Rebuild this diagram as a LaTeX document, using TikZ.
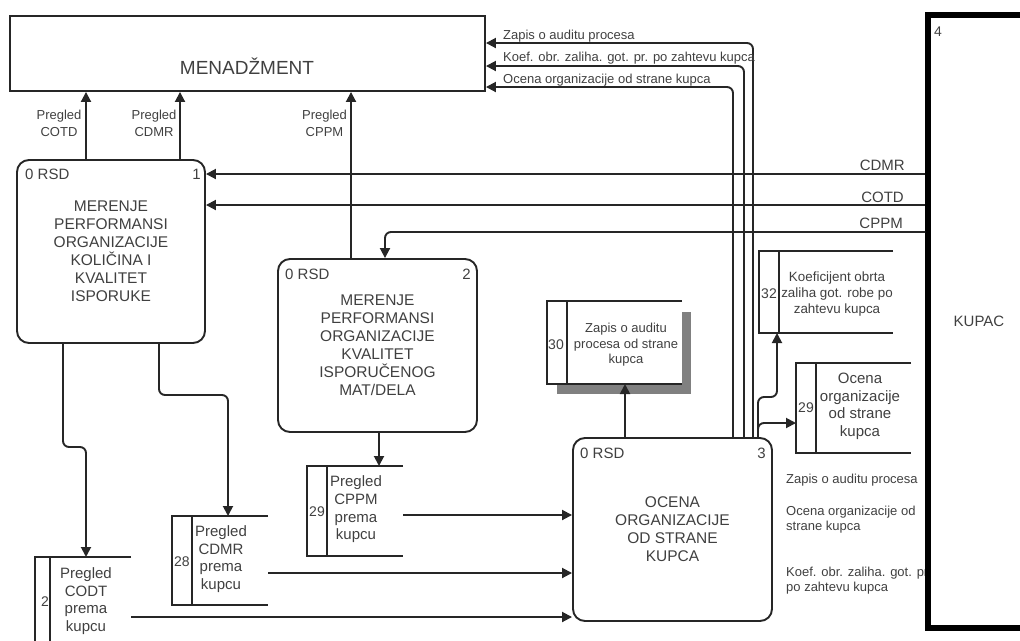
\documentclass[tikz,border=0pt]{standalone}
\usepackage{fontspec}
\setmainfont{Liberation Sans}
\usetikzlibrary{arrows.meta}

\tikzset{
  wire/.style={draw=black!85, line width=1.9pt},
  flow/.style={wire, rounded corners=6pt, -{Triangle[length=10pt,width=10pt]}},
  process/.style={wire, rounded corners=12pt, fill=white, inner sep=0pt, align=center, text=black!75, font=\fontsize{15.5}{18}\selectfont},
  storebox/.style={inner sep=0pt, outer sep=0pt},
  txt/.style={inner sep=0pt, align=center, text=black!75, font=\fontsize{13}{16}\selectfont},
  midtxt/.style={txt, font=\fontsize{15}{17.6}\selectfont},
  numtxt/.style={txt, font=\fontsize{14}{16}\selectfont}
}

\begin{document}
\begin{tikzpicture}[x=1pt,y=-1pt]
\useasboundingbox (0,0) rectangle (1020,640);

\node[wire, minimum width=475pt, minimum height=75pt] (men) at (247.5,53.5) {};
\node[txt, font=\fontsize{19}{22}\selectfont] (mentxt) at (247,66) {MENADŽMENT};

\node[process, minimum width=188pt, minimum height=183pt] (p1) at (111,251.5) {MERENJE\\PERFORMANSI\\ORGANIZACIJE\\KOLIČINA I\\KVALITET\\ISPORUKE};
\node[midtxt, anchor=west] (p1id) at (25,174) {0 RSD};
\node[midtxt, anchor=east] (p1no) at (201,174) {1};

\node[process, minimum width=199pt, minimum height=173pt] (p2) at (377.5,345.5) {MERENJE\\PERFORMANSI\\ORGANIZACIJE\\KVALITET\\ISPORUČENOG\\MAT/DELA};
\node[midtxt, anchor=west] (p2id) at (285,274) {0 RSD};
\node[midtxt, anchor=east] (p2no) at (471,274) {2};

\node[process, minimum width=199pt, minimum height=183pt] (p3) at (672.5,529.5) {OCENA\\ORGANIZACIJE\\OD STRANE\\KUPCA};
\node[midtxt, anchor=west] (p3id) at (580,453) {0 RSD};
\node[midtxt, anchor=east] (p3no) at (766,453) {3};

\node[storebox, minimum width=96pt, minimum height=108pt] (s27) at (83,611) {};
\draw[wire] (s27.north east) -- (s27.north west) -- (s27.south west) -- (s27.south east);
\draw[wire] ([xshift=15pt]s27.north west) -- ([xshift=15pt]s27.south west);
\node[numtxt] (s27no) at (45,602) {2};
\node[midtxt] (s27txt) at (86,601) {Pregled\\CODT\\prema\\kupcu};

\node[storebox, minimum width=96pt, minimum height=89pt] (s28) at (220,560.5) {};
\draw[wire] (s28.north east) -- (s28.north west) -- (s28.south west) -- (s28.south east);
\draw[wire] ([xshift=20pt]s28.north west) -- ([xshift=20pt]s28.south west);
\node[numtxt] (s28no) at (182,562) {28};
\node[midtxt] (s28txt) at (221,559) {Pregled\\CDMR\\prema\\kupcu};

\node[storebox, minimum width=96pt, minimum height=90pt] (s29a) at (355,511) {};
\draw[wire] (s29a.north east) -- (s29a.north west) -- (s29a.south west) -- (s29a.south east);
\draw[wire] ([xshift=20pt]s29a.north west) -- ([xshift=20pt]s29a.south west);
\node[numtxt] (s29ano) at (317,512) {29};
\node[midtxt] (s29atxt) at (356,509.5) {Pregled\\CPPM\\prema\\kupcu};

\fill[black!50] (557,312) rectangle (691,394);
\node[storebox, fill=white, minimum width=135pt, minimum height=83pt] (s30) at (614.5,342.5) {};
\draw[wire] (s30.north east) -- (s30.north west) -- (s30.south west) -- (s30.south east);
\draw[wire] ([xshift=20pt]s30.north west) -- ([xshift=20pt]s30.south west);
\node[numtxt] (s30no) at (556,345) {30};
\node[txt, font=\fontsize{13}{15.5}\selectfont] (s30txt) at (626,345) {Zapis o auditu\\procesa od strane\\kupca};

\node[storebox, minimum width=134pt, minimum height=82pt] (s32) at (826,292) {};
\draw[wire] (s32.north east) -- (s32.north west) -- (s32.south west) -- (s32.south east);
\draw[wire] ([xshift=20pt]s32.north west) -- ([xshift=20pt]s32.south west);
\node[numtxt] (s32no) at (769,294) {32};
\node[txt, font=\fontsize{13.4}{16}\selectfont] (s32txt) at (837,294) {Koeficijent obrta\\zaliha got. robe po\\zahtevu kupca};

\node[storebox, minimum width=115pt, minimum height=90pt] (s29b) at (853.5,408) {};
\draw[wire] (s29b.north east) -- (s29b.north west) -- (s29b.south west) -- (s29b.south east);
\draw[wire] ([xshift=20pt]s29b.north west) -- ([xshift=20pt]s29b.south west);
\node[numtxt] (s29bno) at (806,408) {29};
\node[midtxt] (s29btxt) at (860,406.5) {Ocena\\organizacije\\od strane\\kupca};

\node[txt, anchor=west, align=left, font=\fontsize{13}{15.5}\selectfont] (fzapis) at (786,480) {Zapis o auditu procesa};
\node[txt, anchor=west, align=left, font=\fontsize{13}{15.5}\selectfont] (focena) at (786,519.5) {Ocena organizacije od\\strane kupca};
\node[txt, anchor=west, align=left, font=\fontsize{13}{15.5}\selectfont] (fkoef) at (786,580.5) {Koef. obr. zaliha. got. pr\\po zahtevu kupca};

\node[draw=black, line width=5.5pt, fill=white, minimum width=102pt, minimum height=613pt, inner sep=0pt, text=black!75, font=\fontsize{15}{18}\selectfont] (kupac) at (979,321.5) {KUPAC};
\node[numtxt, anchor=west] (kupno) at (934,32) {4};

\draw[flow] (86,0 |- p1.north) -- (86,0 |- men.south);
\node[txt, font=\fontsize{13}{17}\selectfont] (lcotd) at (59,123.5) {Pregled\\COTD};
\draw[flow] (180,0 |- p1.north) -- (180,0 |- men.south);
\node[txt, font=\fontsize{13}{17}\selectfont] (lcdmr) at (154,123.5) {Pregled\\CDMR};
\draw[flow] (351,0 |- p2.north) -- (351,0 |- men.south);
\node[txt, font=\fontsize{13}{17}\selectfont] (lcppm) at (324.5,123.5) {Pregled\\CPPM};

\draw[flow] (kupac.west |- 0,174) -- (p1.east |- 0,174);
\node[midtxt, anchor=base east] (kcdmr) at (905,170.5) {CDMR};
\draw[flow] (kupac.west |- 0,205) -- (p1.east |- 0,205);
\node[midtxt, anchor=base east] (kcotd) at (904,202.5) {COTD};
\draw[flow] (kupac.west |- 0,232) -| (385,0 |- p2.north);
\node[midtxt, anchor=base east] (kcppm) at (903,228.5) {CPPM};

\draw[flow] (63,0 |- p1.south) |- (86,447) -- (86,0 |- s27.north);
\draw[flow] (159,0 |- p1.south) |- (228,395) -- (228,0 |- s28.north);
\draw[flow] (379,0 |- p2.south) -- (379,0 |- s29a.north);

\draw[flow] (s29a.north east |- 0,515) -- (p3.west |- 0,515);
\draw[flow] (s28.north east |- 0,573) -- (p3.west |- 0,573);
\draw[flow] (s27.north east |- 0,617) -- (p3.west |- 0,617);

\draw[flow] (625,0 |- p3.north) -- (625,0 |- s30.south);
\draw[flow] (753,0 |- p3.north) |- (men.east |- 0,43);
\node[txt, anchor=base west] (tzapis) at (503,39) {Zapis o auditu procesa};
\draw[flow] (744,0 |- p3.north) |- (men.east |- 0,66);
\node[txt, anchor=base west] (tkoef) at (503,61.5) {Koef. obr. zaliha. got. pr. po zahtevu kupca};
\draw[flow] (733,0 |- p3.north) |- (men.east |- 0,87);
\node[txt, anchor=base west] (tocena) at (503,83) {Ocena organizacije od strane kupca};

\draw[flow] (758,0 |- p3.north) |- (777,397) -- (777,0 |- s32.south);
\draw[flow] (758,0 |- p3.north) |- (s29b.west |- 0,423);

\end{tikzpicture}
\end{document}
